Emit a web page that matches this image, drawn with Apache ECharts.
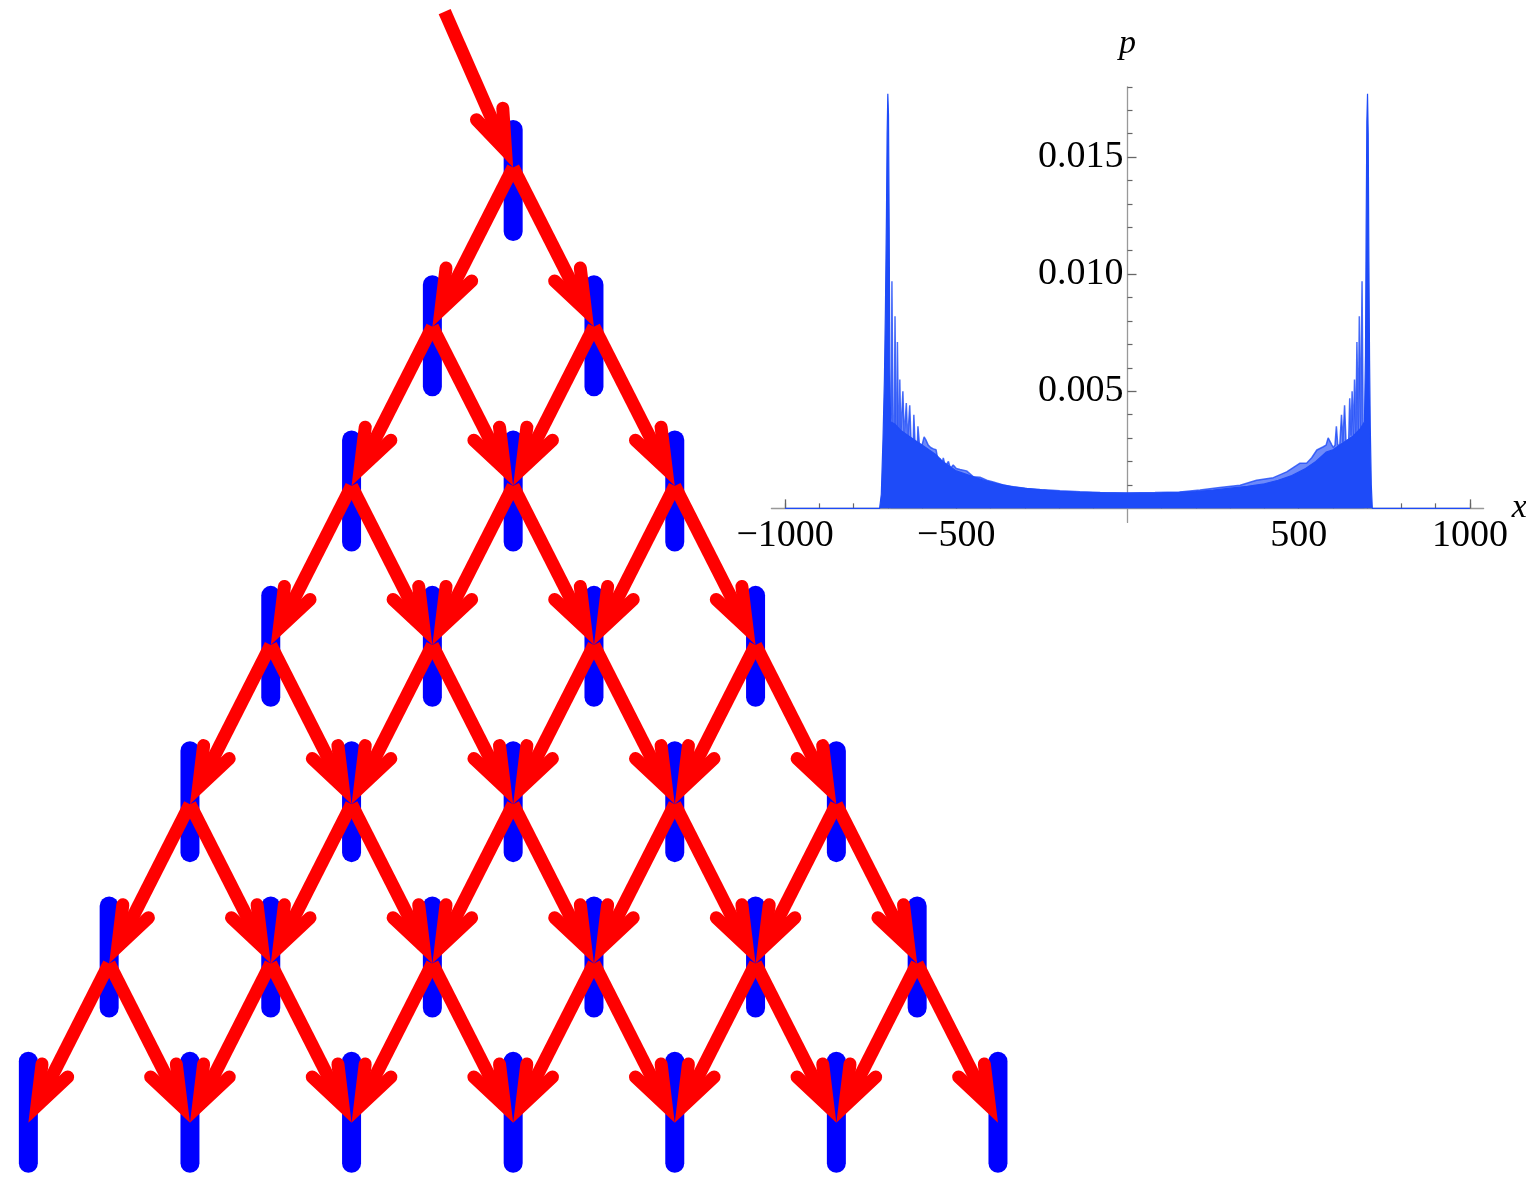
<!DOCTYPE html>
<html><head><meta charset="utf-8">
<script src="https://cdn.jsdelivr.net/npm/echarts@6/dist/echarts.min.js"></script>
<style>html,body{margin:0;padding:0;background:#fff}#c{width:1526px;height:1179px}</style>
</head><body><div id="c"></div>
<script>
// ===== Inset: probability distribution p(x) =====
const xTickLabels = [-1000, -500, 500, 1000];
const xMinorTicks = [-1000,-900,-800,-700,-600,-500,-400,-300,-200,-100,100,200,300,400,500,600,700,800,900,1000];
const yTickLabels = [0.005, 0.010, 0.015];
const yMinorTicks = [0.001,0.002,0.003,0.004,0.006,0.007,0.008,0.009,0.011,0.012,0.013,0.014,0.016,0.017,0.018];

// solid part (lower envelope + main edge peaks)
const xLower = [-1000,-724,-719,-714,-710,-707,-704,-702,-700,-698,-696,-694,-692,-680,-660,-640,-620,-600,-580,-560,-540,-520,-500,-460,-420,-380,-340,-300,-250,-200,-150,-100,-50,0,
  50,100,150,200,250,300,350,400,440,480,520,550,580,600,620,640,660,680,692,695,697,699,701,703,705,707,709,712,715,1000];
const pLower = [0,0,0.0006,0.0030,0.0055,0.0085,0.0125,0.0160,0.0177,0.0168,0.0120,0.0060,0.0037,0.0036,0.0033,0.0031,0.0029,0.0027,0.0025,0.0023,0.0020,0.0018,0.0016,0.0014,0.0012,0.00105,0.00093,0.00085,0.00078,0.00073,0.00069,0.00067,0.00065,0.00065,
  0.00065,0.00066,0.00068,0.00072,0.00078,0.00086,0.00094,0.00105,0.0012,0.0014,0.0017,0.0020,0.0024,0.0025,0.0027,0.0029,0.0031,0.0034,0.0037,0.0065,0.0120,0.0165,0.0177,0.0160,0.0105,0.0063,0.0035,0.0010,0,0];

// oscillating upper envelope (spikes)
const xUpper = [-692,-690,-688,-686,-685,-681,-679,-677,-676,-673,-672,-670,-669,-666,-665,-663,-662,-658,-656,-654,-652,-648,-646,-644,-642,-638,-636,-634,-632,-626,-624,-622,-620,-614,-612,-610,-607,-600,-594,-588,-582,-575,-567,-559,-553,-548,-543,-538,-532,-523,-517,-509,-500,-489,-470,-450,-431,-411,-392,-363,-334,-294,-256,-197,-139,-80,0,
  80,153,212,270,329,377,426,465,504,523,538,553,572,580,586,591,597,601,606,610,612,614,620,625,627,629,632,634,636,638,646,649,651,653,655,656,658,660,662,663,665,667,669,670,672,674,676,677,679,681,683,685,687,688,692];
const pUpper = [0.0036,0.0040,0.0097,0.0097,0.0036,0.0034,0.0082,0.0082,0.0034,0.0033,0.0071,0.0071,0.0033,0.0032,0.0055,0.0055,0.0031,0.0031,0.0050,0.0050,0.0030,0.0030,0.0045,0.0045,0.0029,0.0029,0.0044,0.0044,0.0028,0.0027,0.0040,0.0040,0.0026,0.0026,0.0035,0.0035,0.0026,0.0027,0.00305,0.0029,0.0027,0.0026,0.00254,0.0025,0.0020,0.00213,0.0018,0.00215,0.0018,0.0020,0.0017,0.00185,0.0017,0.00166,0.0016,0.00135,0.00133,0.0012,0.00113,0.0010,0.00092,0.00085,0.00081,0.00075,0.00071,0.00068,0.00066,
  0.00068,0.0007,0.00078,0.00089,0.00099,0.0012,0.00131,0.00156,0.00193,0.00193,0.00216,0.00249,0.00263,0.0027,0.00301,0.00305,0.0027,0.0026,0.0027,0.0035,0.0035,0.0027,0.0027,0.0040,0.0040,0.0028,0.0028,0.0044,0.0044,0.0029,0.0029,0.0047,0.0047,0.0031,0.0031,0.0050,0.0050,0.0031,0.0031,0.0055,0.0055,0.0032,0.0032,0.0071,0.0071,0.0033,0.0033,0.0082,0.0082,0.0034,0.0034,0.0097,0.0097,0.0036,0.0036];

// ===== Diagram: lattice of nodes [pos, row] =====
const nodes = [
  [0,0],
  [-1,1],[1,1],
  [-2,2],[0,2],[2,2],
  [-3,3],[-1,3],[1,3],[3,3],
  [-4,4],[-2,4],[0,4],[2,4],[4,4],
  [-5,5],[-3,5],[-1,5],[1,5],[3,5],[5,5],
  [-6,6],[-4,6],[-2,6],[0,6],[2,6],[4,6],[6,6]
];
const lastRow = 6;
const incomingArrow = [-0.848, -0.979, 0, 0];

// build edges: every node of rows 0..5 splits to the two nodes below
const edges = [incomingArrow];
nodes.forEach(n => {
  if (n[1] < lastRow) {
    edges.push([n[0], n[1], n[0] - 1, n[1] + 1]);
    edges.push([n[0], n[1], n[0] + 1, n[1] + 1]);
  }
});

const BLUE = '#1e4bf8';
const serif = "'Liberation Serif','Times New Roman',serif";
const minus = v => String(v).replace('-', '\u2212');

function renderBar(params, api) {
  const pos = api.value(0), row = api.value(1);
  const c = api.coord([pos, row]);
  const off = 13 - 3.9 * row;
  return { type: 'rect', shape: { x: c[0] - 9.5, y: c[1] + off - 60.5, width: 19, height: 121, r: 9.5 },
    style: { fill: '#0000ff' } };
}
function renderArrow(params, api) {
  const s = api.coord([api.value(0), api.value(1)]);
  const t = api.coord([api.value(2), api.value(3)]);
  const dx = t[0] - s[0], dy = t[1] - s[1];
  const len = Math.hypot(dx, dy);
  const ux = dx / len, uy = dy / len;
  const W = 13, A = 20 * Math.PI / 180, L = 42;
  const d = (W / 2) / Math.sin(A);
  const vx = t[0] - d * ux, vy = t[1] - d * uy;
  const bx = -ux, by = -uy, c = Math.cos(A), sn = Math.sin(A);
  const b1 = [vx + L * (bx * c - by * sn), vy + L * (bx * sn + by * c)];
  const b2 = [vx + L * (bx * c + by * sn), vy + L * (-bx * sn + by * c)];
  return { type: 'group', children: [
    { type: 'line', shape: { x1: s[0], y1: s[1], x2: vx, y2: vy },
      style: { stroke: '#ff0000', lineWidth: W, lineCap: 'butt' } },
    { type: 'polyline', shape: { points: [b1, [vx, vy], b2] },
      style: { stroke: '#ff0000', fill: 'none', lineWidth: W, lineJoin: 'miter', miterLimit: 10, lineCap: 'round' } }
  ] };
}

const axisLineStyle = { color: '#999', width: 1.3 };
const chart = echarts.init(document.getElementById('c'), null, { renderer: 'canvas' });
chart.setOption({
  animation: false,
  backgroundColor: '#ffffff',
  grid: [
    { left: 771.4, top: 86.8, width: 712.2, height: 435.6, outerBoundsMode: 'none', containLabel: false },
    { left: 0, top: 0, right: 0, bottom: 0, outerBoundsMode: 'none', containLabel: false }
  ],
  xAxis: [
    { gridIndex: 0, type: 'value', min: -1040, max: 1040, position: 'bottom',
      axisLine: { show: true, onZero: true, onZeroAxisIndex: 0, lineStyle: axisLineStyle },
      axisTick: { show: true, inside: true, length: 9, customValues: xTickLabels, lineStyle: { color: '#666', width: 1.3 } },
      axisLabel: { show: true, customValues: xTickLabels, formatter: minus, margin: -5,
        fontFamily: serif, fontSize: 38, color: '#000' },
      splitLine: { show: false },
      name: 'x', nameLocation: 'end', nameGap: 14,
      nameTextStyle: { fontFamily: serif, fontStyle: 'italic', fontSize: 34, color: '#000', verticalAlign: 'middle', padding: [0, 0, 6, 0] } },
    { gridIndex: 0, type: 'value', min: -1040, max: 1040, position: 'bottom',
      axisLine: { show: false, onZero: true, onZeroAxisIndex: 0 },
      axisTick: { show: true, inside: true, length: 5, customValues: xMinorTicks, lineStyle: { color: '#666', width: 1.2 } },
      axisLabel: { show: false }, splitLine: { show: false } },
    { gridIndex: 1, type: 'value', min: -6.351, max: 12.535, show: false, splitLine: { show: false } }
  ],
  yAxis: [
    { gridIndex: 0, type: 'value', min: -0.0006, max: 0.018, position: 'left',
      axisLine: { show: true, onZero: true, onZeroAxisIndex: 0, lineStyle: axisLineStyle },
      axisTick: { show: true, inside: true, length: 9, customValues: yTickLabels, lineStyle: { color: '#666', width: 1.3 } },
      axisLabel: { show: true, customValues: yTickLabels, formatter: v => v.toFixed(3), margin: -352,
        fontFamily: serif, fontSize: 38, color: '#000' },
      splitLine: { show: false },
      name: 'p', nameLocation: 'end', nameGap: 26,
      nameTextStyle: { fontFamily: serif, fontStyle: 'italic', fontSize: 34, color: '#000' } },
    { gridIndex: 0, type: 'value', min: -0.0006, max: 0.018, position: 'left',
      axisLine: { show: false, onZero: true, onZeroAxisIndex: 0 },
      axisTick: { show: true, inside: true, length: 5, customValues: yMinorTicks, lineStyle: { color: '#666', width: 1.2 } },
      axisLabel: { show: false }, splitLine: { show: false } },
    { gridIndex: 1, type: 'value', min: -1.052, max: 6.354, inverse: true, show: false, splitLine: { show: false } }
  ],
  series: [
    { type: 'line', xAxisIndex: 0, yAxisIndex: 0, symbol: 'none', z: 3,
      data: xUpper.map((x, i) => [x, pUpper[i]]),
      lineStyle: { color: BLUE, width: 1.5, opacity: 0.8 },
      areaStyle: { color: BLUE, opacity: 0.65, origin: 'auto' } },
    { type: 'line', xAxisIndex: 0, yAxisIndex: 0, symbol: 'none', z: 4,
      data: xLower.map((x, i) => [x, pLower[i]]),
      lineStyle: { color: BLUE, width: 1.2 },
      areaStyle: { color: BLUE, opacity: 1, origin: 'auto' } },
    { type: 'custom', xAxisIndex: 2, yAxisIndex: 2, coordinateSystem: 'cartesian2d', clip: false, z: 5,
      renderItem: renderBar, data: nodes },
    { type: 'custom', xAxisIndex: 2, yAxisIndex: 2, coordinateSystem: 'cartesian2d', clip: false, z: 6,
      renderItem: renderArrow, data: edges }
  ]
});
</script>
</body></html>
